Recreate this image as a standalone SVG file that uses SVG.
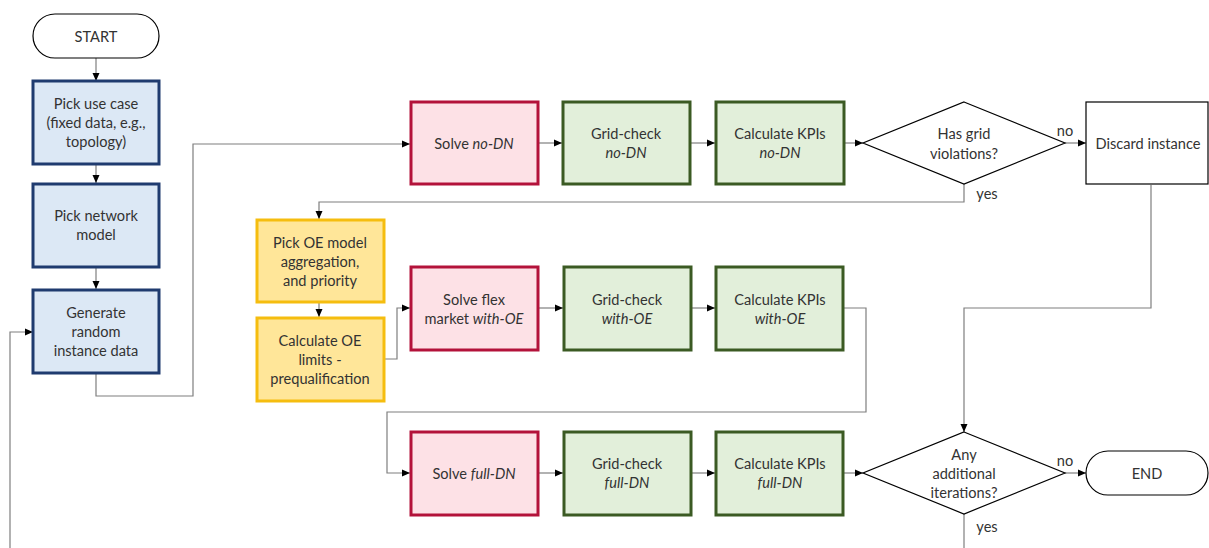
<svg xmlns="http://www.w3.org/2000/svg" width="1209" height="548" viewBox="0 0 1209 548">
  <defs>
    <marker id="arrow" markerUnits="userSpaceOnUse" markerWidth="9" markerHeight="8" refX="8" refY="4" orient="auto">
      <path d="M0,0.5 L8,4 L0,7.5 z" fill="#000"/>
    </marker>
    <style>
      text { font-family: Lato, "Open Sans", "Liberation Sans", sans-serif; font-size: 14.6px; fill: #333; text-anchor: middle; dominant-baseline: central; }
      .it { font-style: italic; }
      .term { fill: #fff; stroke: #000; stroke-width: 1.2; }
      .plain { fill: #fff; stroke: #000; stroke-width: 1.2; }
      .blue { fill: #dce8f5; stroke: #1f3b6f; stroke-width: 3; }
      .red { fill: #fde1e6; stroke: #b3123a; stroke-width: 3; }
      .green { fill: #e2efda; stroke: #3b5a23; stroke-width: 3; }
      .yellow { fill: #ffe699; stroke: #f5bd0f; stroke-width: 3; }
      .dec { fill: #fff; stroke: #000; stroke-width: 1.2; }
      .conn path { fill: none; stroke: #7f7f7f; stroke-width: 1.2; }
      .conn .a { marker-end: url(#arrow); }
    </style>
  </defs>
  <rect width="1209" height="548" fill="#fff"/>

  <!-- connectors -->
  <g id="connectors" class="conn">
    <path class="a" d="M96,58 V81"/>
    <path class="a" d="M96,165 V183"/>
    <path class="a" d="M96,268 V289"/>
    <path class="a" d="M96,374 V396 H193 V144 H410"/>
    <path class="a" d="M10,548 V332 H33"/>
    <path class="a" d="M539,143 H562"/>
    <path class="a" d="M691,143 H715"/>
    <path class="a" d="M845,143 H863"/>
    <path class="a" d="M1065,143 H1086"/>
    <path class="a" d="M964,184 V202 H319 V219"/>
    <path class="a" d="M319,303 V317"/>
    <path class="a" d="M385,359 H397 V308 H410"/>
    <path class="a" d="M539,308 H563"/>
    <path class="a" d="M692,308 H715"/>
    <path class="a" d="M844,308 H866 V412 H387 V473 H410"/>
    <path class="a" d="M539,473 H563"/>
    <path class="a" d="M692,473 H715"/>
    <path class="a" d="M844,473 H863"/>
    <path class="a" d="M1151,185 V308 H964 V432"/>
    <path class="a" d="M1065,473 H1086"/>
    <path d="M964,514 V548"/>
  </g>

  <!-- branch labels -->
  <g id="labels">
    <text x="1065" y="130">no</text>
    <text x="987" y="193">yes</text>
    <text x="1065" y="460">no</text>
    <text x="987" y="526">yes</text>
  </g>

  <g id="start">
    <rect class="term" x="33" y="14" width="126" height="44" rx="22"/>
    <text x="96" y="36">START</text>
  </g>

  <g id="pick-use-case">
    <rect class="blue" x="33" y="81" width="126" height="83"/>
    <text x="96" y="103">Pick use case</text>
    <text x="96" y="122">(fixed data, e.g.,</text>
    <text x="96" y="141">topology)</text>
  </g>

  <g id="pick-network-model">
    <rect class="blue" x="33" y="184" width="126" height="83"/>
    <text x="96" y="215">Pick network</text>
    <text x="96" y="234">model</text>
  </g>

  <g id="generate-instance">
    <rect class="blue" x="33" y="290" width="126" height="83"/>
    <text x="96" y="312">Generate</text>
    <text x="96" y="331">random</text>
    <text x="96" y="350">instance data</text>
  </g>

  <g id="solve-no-dn">
    <rect class="red" x="411" y="102" width="127" height="82"/>
    <text x="474" y="143">Solve <tspan class="it">no-DN</tspan></text>
  </g>

  <g id="grid-check-no-dn">
    <rect class="green" x="563" y="102" width="127" height="82"/>
    <text x="626" y="133">Grid-check</text>
    <text x="626" y="152" class="it">no-DN</text>
  </g>

  <g id="kpis-no-dn">
    <rect class="green" x="716" y="102" width="128" height="82"/>
    <text x="780" y="133">Calculate KPIs</text>
    <text x="780" y="152" class="it">no-DN</text>
  </g>

  <g id="has-violations">
    <polygon class="dec" points="964,102 1065,143 964,184 863,143"/>
    <text x="964" y="133">Has grid</text>
    <text x="964" y="153">violations?</text>
  </g>

  <g id="discard-instance">
    <rect class="plain" x="1086" y="102" width="122" height="82"/>
    <text x="1148" y="143">Discard instance</text>
  </g>

  <g id="pick-oe-model">
    <rect class="yellow" x="257" y="220" width="127" height="82"/>
    <text x="320" y="242">Pick OE model</text>
    <text x="320" y="261">aggregation,</text>
    <text x="320" y="280">and priority</text>
  </g>

  <g id="calc-oe-limits">
    <rect class="yellow" x="257" y="318" width="127" height="83"/>
    <text x="320" y="340">Calculate OE</text>
    <text x="320" y="359">limits -</text>
    <text x="320" y="378">prequalification</text>
  </g>

  <g id="solve-with-oe">
    <rect class="red" x="411" y="267" width="127" height="83"/>
    <text x="474" y="299">Solve flex</text>
    <text x="474" y="318">market <tspan class="it">with-OE</tspan></text>
  </g>

  <g id="grid-check-with-oe">
    <rect class="green" x="564" y="267" width="127" height="83"/>
    <text x="627" y="299">Grid-check</text>
    <text x="627" y="318" class="it">with-OE</text>
  </g>

  <g id="kpis-with-oe">
    <rect class="green" x="716" y="267" width="127" height="83"/>
    <text x="780" y="299">Calculate KPIs</text>
    <text x="780" y="318" class="it">with-OE</text>
  </g>

  <g id="solve-full-dn">
    <rect class="red" x="411" y="432" width="127" height="83"/>
    <text x="474" y="473">Solve <tspan class="it">full-DN</tspan></text>
  </g>

  <g id="grid-check-full-dn">
    <rect class="green" x="564" y="432" width="127" height="83"/>
    <text x="627" y="463">Grid-check</text>
    <text x="627" y="482" class="it">full-DN</text>
  </g>

  <g id="kpis-full-dn">
    <rect class="green" x="716" y="432" width="127" height="83"/>
    <text x="780" y="463">Calculate KPIs</text>
    <text x="780" y="482" class="it">full-DN</text>
  </g>

  <g id="more-iterations">
    <polygon class="dec" points="964,432 1065,473 964,514 863,473"/>
    <text x="964" y="454">Any</text>
    <text x="964" y="473">additional</text>
    <text x="964" y="492">iterations?</text>
  </g>

  <g id="end">
    <rect class="term" x="1086" y="451" width="122" height="44" rx="22"/>
    <text x="1147" y="473">END</text>
  </g>
</svg>
